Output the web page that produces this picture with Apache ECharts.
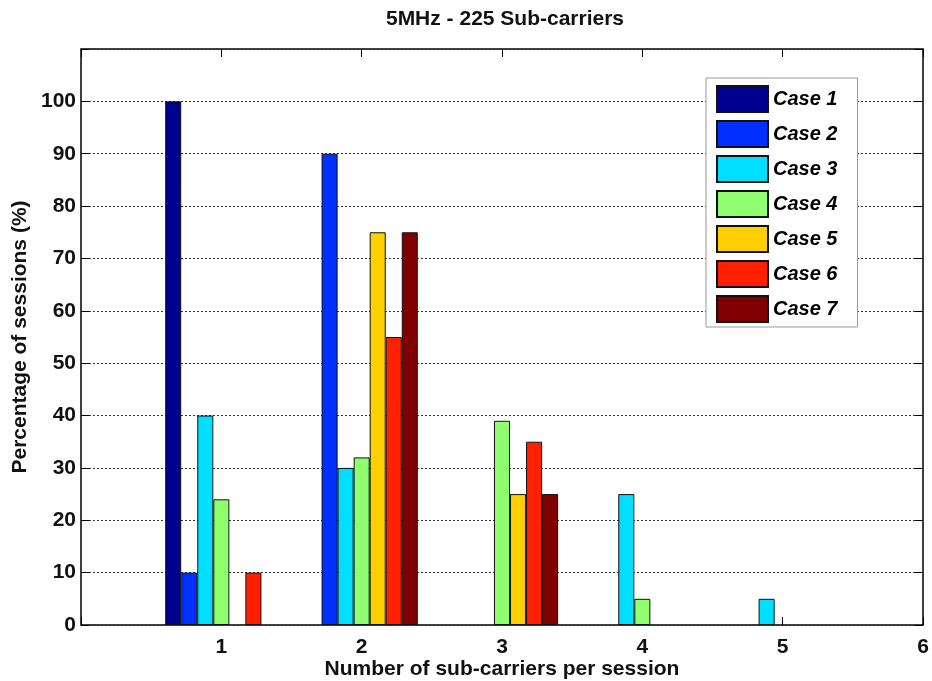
<!DOCTYPE html>
<html>
<head>
<meta charset="utf-8">
<script src="https://cdn.jsdelivr.net/npm/echarts@6/dist/echarts.min.js"></script>
<style>
  html, body { margin: 0; padding: 0; background: #ffffff; }
  #chart { width: 932px; height: 681px; }
</style>
</head>
<body>
<div id="chart"></div>
<script>
// Number of sub-carriers per session (0 is the left edge of the axis)
const categories = ['0', '1', '2', '3', '4', '5', '6'];

// Percentage of sessions for each case
const case1 = [0, 100, 0, 0, 0, 0, 0];
const case2 = [0, 10, 90, 0, 0, 0, 0];
const case3 = [0, 40, 30, 0, 25, 5, 0];
const case4 = [0, 24, 32, 39, 5, 0, 0];
const case5 = [0, 0, 75, 25, 0, 0, 0];
const case6 = [0, 10, 55, 35, 0, 0, 0];
const case7 = [0, 0, 75, 25, 0, 0, 0];

const seriesNames = ['Case 1', 'Case 2', 'Case 3', 'Case 4', 'Case 5', 'Case 6', 'Case 7'];
const seriesValues = [case1, case2, case3, case4, case5, case6, case7];
const seriesColors = ['#00008f', '#0030ff', '#00dfff', '#8fff70', '#ffcf00', '#ff2000', '#800000'];

const yTicks = [0, 10, 20, 30, 40, 50, 60, 70, 80, 90, 100];

const FONT = "'Liberation Sans', Arial, sans-serif";

const chart = echarts.init(document.getElementById('chart'), null, { renderer: 'canvas' });

// Short tick marks pointing into the plot box on every side
const innerTicks = () => ({ show: true, inside: true, length: 8, lineStyle: { color: '#000', width: 1 } });

// A zero share has no height; leave it empty so no outline is drawn on the baseline.
const asBarData = values => values.map(v => (v === 0 ? '-' : v));

chart.setOption({
  backgroundColor: '#ffffff',
  animation: false,
  title: {
    text: '5MHz - 225 Sub-carriers',
    left: 500,
    top: 4,
    textAlign: 'center',
    textStyle: { fontFamily: FONT, fontWeight: 'bold', fontSize: 21, color: '#111' }
  },
  grid: {
    left: 81, right: 9, top: 49, bottom: 56,
    outerBoundsMode: 'none',
    containLabel: false,
    show: true, borderColor: '#000', borderWidth: 1.5, backgroundColor: 'transparent'
  },
  legend: {
    orient: 'vertical',
    left: 706,
    top: 78,
    padding: [7, 20, 4, 10],
    itemWidth: 51,
    itemHeight: 26,
    itemGap: 7,
    icon: 'rect',
    backgroundColor: '#ffffff',
    borderColor: '#999',
    borderWidth: 1,
    data: seriesNames,
    textStyle: {
      fontFamily: FONT, fontWeight: 'bold', fontStyle: 'italic',
      fontSize: 20, lineHeight: 22, color: '#000'
    }
  },
  xAxis: [
    {
      type: 'category',
      data: categories,
      boundaryGap: false,
      position: 'bottom',
      axisLine: { show: false, onZero: false },
      axisTick: innerTicks(),
      axisLabel: {
        margin: 12,
        fontFamily: FONT, fontWeight: 'bold', fontSize: 21, color: '#111',
        formatter: v => (v === '0' ? '' : v)
      },
      splitLine: { show: false },
      name: 'Number of sub-carriers per session',
      nameLocation: 'middle',
      nameGap: 34,
      nameMoveOverlap: false,
      nameTextStyle: { fontFamily: FONT, fontWeight: 'bold', fontSize: 21, color: '#111' }
    },
    {
      type: 'category',
      data: categories,
      boundaryGap: false,
      position: 'top',
      axisLine: { show: false, onZero: false },
      axisTick: innerTicks(),
      axisLabel: { show: false },
      splitLine: { show: false }
    }
  ],
  yAxis: [
    {
      type: 'value',
      min: 0,
      max: 110,
      interval: 10,
      position: 'left',
      axisLine: { show: false, onZero: false },
      axisTick: innerTicks(),
      axisLabel: {
        margin: 5,
        fontFamily: FONT, fontWeight: 'bold', fontSize: 21, color: '#111',
        formatter: v => (yTicks.indexOf(v) >= 0 ? String(v) : '')
      },
      splitLine: { show: true, lineStyle: { color: '#333', width: 1, type: [2, 2] } },
      name: 'Percentage of sessions (%)',
      nameLocation: 'middle',
      nameGap: 50,
      nameMoveOverlap: false,
      nameTextStyle: { fontFamily: FONT, fontWeight: 'bold', fontSize: 21, color: '#111' }
    },
    {
      type: 'value',
      min: 0,
      max: 110,
      interval: 10,
      position: 'right',
      axisLine: { show: false, onZero: false },
      axisTick: innerTicks(),
      axisLabel: { show: false },
      splitLine: { show: false }
    }
  ],
  series: seriesNames.map((name, i) => ({
    name: name,
    type: 'bar',
    xAxisIndex: 0,
    yAxisIndex: 0,
    data: asBarData(seriesValues[i]),
    barGap: '0%',
    barCategoryGap: '20%',
    itemStyle: { color: seriesColors[i], borderColor: '#111', borderWidth: 1 }
  }))
});
</script>
</body>
</html>
